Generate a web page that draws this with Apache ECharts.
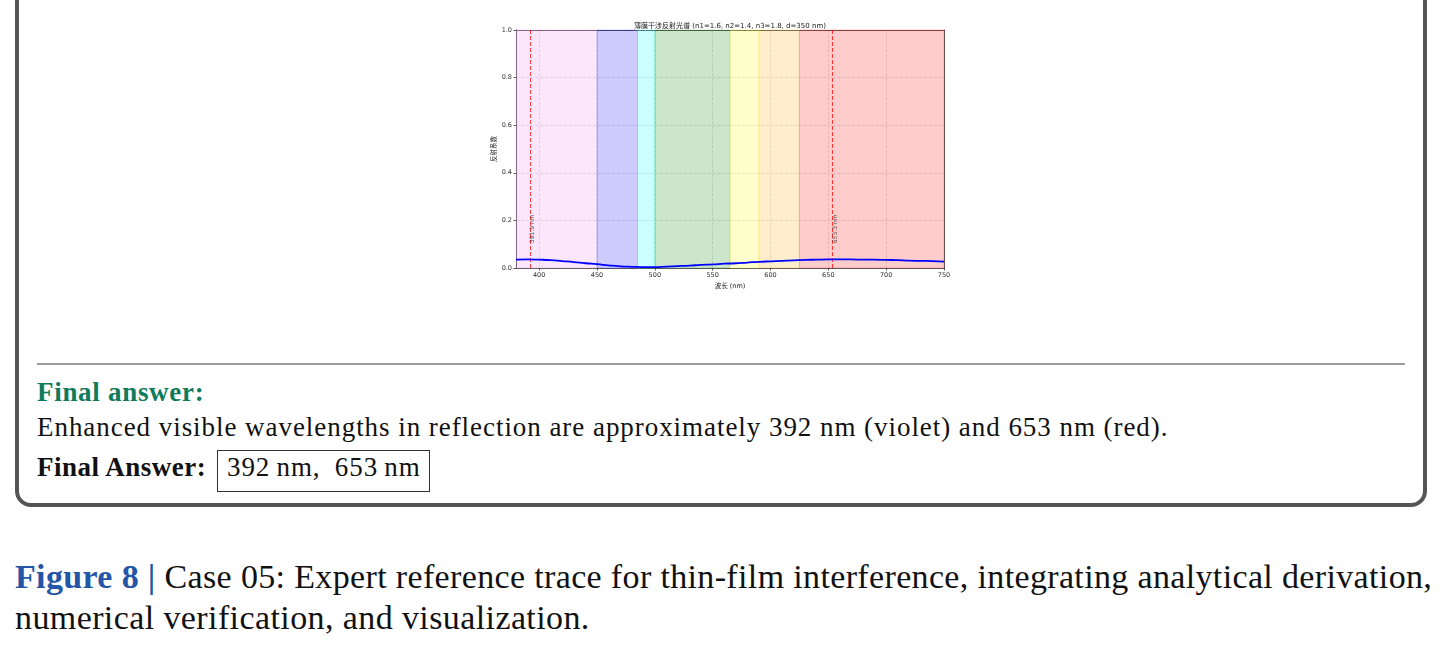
<!DOCTYPE html>
<html>
<head>
<meta charset="utf-8">
<title>薄膜干涉反射光谱</title>
<script src="https://cdn.jsdelivr.net/npm/echarts@6/dist/echarts.min.js"></script>
<style>
    html, body { margin: 0; padding: 0; background: #fff; width: 1447px; height: 651px; overflow: hidden; position: relative; }
    .frame { position: absolute; left: 15px; top: -60px; width: 1412px; height: 567px; box-sizing: border-box; border: 4px solid #555; border-radius: 16px; }
    #chart { position: absolute; left: 470px; top: 0; width: 520px; height: 300px; }
    .rule { position: absolute; left: 37px; top: 363px; width: 1368px; height: 2px; background: #9c9c9c; }
    .txt { position: absolute; white-space: nowrap; font-family: "Liberation Serif", "DejaVu Serif", serif; color: #111; line-height: 1; }
    .green { color: #0e7b5b; font-weight: bold; }
    .blue { color: #2456a8; font-weight: bold; }
    .answerBox { position: absolute; left: 217px; top: 450px; width: 213px; height: 42px; box-sizing: border-box; border: 1.3px solid #333; }
</style>
</head>
<body>
    <div class="frame"></div>
    <div id="chart"></div>
    <div class="rule"></div>
    <div class="txt green" style="left:37px;top:379px;font-size:27px;letter-spacing:0.7px;">Final answer:</div>
    <div class="txt" style="left:37px;top:414px;font-size:27px;letter-spacing:0.95px;">Enhanced visible wavelengths in reflection are approximately 392 nm (violet) and 653 nm (red).</div>
    <div class="txt" style="left:37px;top:454px;font-size:27px;font-weight:bold;letter-spacing:0.5px;">Final Answer:</div>
    <div class="answerBox"></div>
    <div class="txt" style="left:227px;top:454px;font-size:27px;letter-spacing:0.9px;">392&thinsp;nm,&ensp;653&thinsp;nm</div>
    <div class="txt" style="left:15px;top:560px;font-size:34px;letter-spacing:0.35px;"><span class="blue">Figure 8 |</span> Case 05: Expert reference trace for thin-film interference, integrating analytical derivation,</div>
    <div class="txt" style="left:15px;top:601px;font-size:34px;letter-spacing:0.4px;">numerical verification, and visualization.</div>
</body>
</html>
<script type="text/javascript">
// 数据
var wavelengths = [380, 390, 400, 410, 420, 430, 440, 450, 460, 470, 480, 490, 500, 510, 520, 530, 540, 550, 560,
    570, 580, 590, 600, 610, 620, 630, 640, 650, 660, 670, 680, 690, 700, 710, 720, 730, 740, 750];
var reflectance = [0.035, 0.036, 0.035, 0.033, 0.029, 0.025, 0.020, 0.016, 0.011, 0.007, 0.005, 0.004, 0.004, 0.006,
    0.008, 0.010, 0.013, 0.015, 0.018, 0.020, 0.023, 0.026, 0.028, 0.030, 0.032, 0.034, 0.035, 0.036, 0.036,
    0.036, 0.035, 0.035, 0.034, 0.033, 0.031, 0.030, 0.029, 0.027];

// 可见光色带
var bandStart = [380, 450, 485, 500, 565, 590, 625];
var bandEnd = [450, 485, 500, 565, 590, 625, 750];
var bandRgb = ['238,130,238', '0,0,255', '0,255,255', '0,128,0', '255,255,0', '255,165,0', '255,0,0'];

// 增强波长
var peakWavelengths = [391.9, 653.3];
var peakLabels = ['391.9 nm', '653.3 nm'];
var peakLabelY = 0.1;

var xTicks = [400, 450, 500, 550, 600, 650, 700, 750];
var titleText = '薄膜干涉反射光谱 (n1=1.6, n2=1.4, n3=1.8, d=350 nm)';

var font = 'DejaVu Sans, Noto Sans CJK SC, sans-serif';
var axisColor = '#333';
var gridLine = { show: true, lineStyle: { color: 'rgba(150,150,150,0.35)', type: 'dashed', width: 0.8 } };

var myChart = echarts.init(document.getElementById('chart'));

var curve = wavelengths.map(function(w, i) {
    return [w, reflectance[i]];
});
var bandAreas = bandStart.map(function(s, i) {
    return [{
        xAxis: s,
        itemStyle: {
            color: 'rgba(' + bandRgb[i] + ',0.2)',
            borderColor: 'rgba(' + bandRgb[i] + ',0.25)',
            borderWidth: 0.8
        }
    }, { xAxis: bandEnd[i] }];
});
var peakLines = peakWavelengths.map(function(w) {
    return { xAxis: w };
});
var peakPoints = peakWavelengths.map(function(w) {
    return [w, peakLabelY];
});

option = {
    animation: false,
    title: {
        text: titleText,
        left: 'center',
        top: 18,
        textStyle: { fontFamily: font, fontSize: 7, fontWeight: 'normal', color: '#222' }
    },
    grid: { left: 46, right: 46, top: 30, bottom: 32 },
    xAxis: [{
        type: 'value',
        min: 380,
        max: 750,
        name: '波长 (nm)',
        nameLocation: 'middle',
        nameGap: 13,
        nameTextStyle: { fontFamily: font, fontSize: 6.5, color: '#222' },
        axisLine: { show: true, lineStyle: { color: axisColor, width: 0.8 } },
        axisTick: { show: true, length: 2.5, customValues: xTicks, lineStyle: { color: axisColor, width: 0.8 } },
        axisLabel: { customValues: xTicks, fontFamily: font, fontSize: 6.5, color: '#333', margin: 4 },
        splitLine: gridLine
    }, {
        type: 'value',
        position: 'top',
        min: 380,
        max: 750,
        axisLine: { show: true, onZero: false, lineStyle: { color: axisColor, width: 0.8 } },
        axisTick: { show: false },
        axisLabel: { show: false },
        splitLine: { show: false }
    }],
    yAxis: [{
        type: 'value',
        min: 0,
        max: 1,
        interval: 0.2,
        name: '反射系数',
        nameLocation: 'middle',
        nameGap: 18,
        nameMoveOverlap: false,
        nameTextStyle: { fontFamily: font, fontSize: 6.5, color: '#222' },
        axisLine: { show: true, lineStyle: { color: axisColor, width: 0.8 } },
        axisTick: { show: true, length: 2.5, lineStyle: { color: axisColor, width: 0.8 } },
        axisLabel: {
            fontFamily: font, fontSize: 6.5, color: '#333', margin: 4,
            formatter: function(v) { return v.toFixed(1); }
        },
        splitLine: gridLine
    }, {
        type: 'value',
        position: 'right',
        min: 0,
        max: 1,
        axisLine: { show: true, onZero: false, lineStyle: { color: axisColor, width: 0.8 } },
        axisTick: { show: false },
        axisLabel: { show: false },
        splitLine: { show: false }
    }],
    series: [{
        type: 'line',
        name: '反射系数',
        data: curve,
        smooth: true,
        showSymbol: false,
        z: 5,
        lineStyle: { color: '#0000ff', width: 1.8 },
        itemStyle: { color: '#0000ff' },
        markArea: { silent: true, z: 1, data: bandAreas },
        markLine: {
            silent: true,
            symbol: 'none',
            z: 4,
            label: { show: false },
            lineStyle: { color: 'rgba(255,0,0,0.75)', type: [4, 2], width: 1 },
            data: peakLines
        }
    }, {
        type: 'scatter',
        data: peakPoints,
        symbolSize: 1,
        z: 6,
        itemStyle: { color: 'transparent' },
        label: {
            show: true,
            position: 'inside',
            offset: [1, 0],
            rotate: 90,
            align: 'left',
            verticalAlign: 'top',
            fontFamily: font,
            fontSize: 6,
            color: '#222',
            formatter: function(p) { return peakLabels[p.dataIndex]; }
        }
    }]
};

myChart.setOption(option);
</script>
